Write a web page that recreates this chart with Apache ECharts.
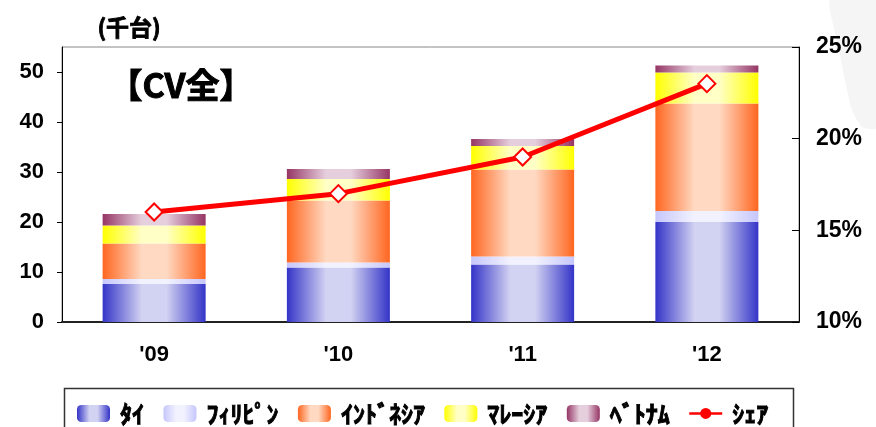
<!DOCTYPE html>
<html>
<head>
<meta charset="utf-8">
<script src="https://cdn.jsdelivr.net/npm/echarts@6/dist/echarts.min.js"></script>
<style>
  html, body { margin: 0; padding: 0; background: #ffffff; }
  #chart { width: 876px; height: 427px; }
</style>
</head>
<body>
<div id="chart"></div>
<script>
// Commercial vehicle sales by country (thousand units) and share (%)
const years = ["'09", "'10", "'11", "'12"];
const thai = [7.6, 10.9, 11.5, 20.0];
const philippines = [1.0, 1.0, 1.6, 2.2];
const indonesia = [7.1, 12.4, 17.4, 21.5];
const malaysia = [3.6, 4.3, 4.7, 6.2];
const vietnam = [2.3, 2.0, 1.4, 1.4];
const share = [16, 17, 19, 23];
const names = ['ﾀｲ', 'ﾌｨﾘﾋﾟﾝ', 'ｲﾝﾄﾞﾈｼｱ', 'ﾏﾚｰｼｱ', 'ﾍﾞﾄﾅﾑ', 'ｼｪｱ'];
const leftTicks = { min: 0, max: 55, interval: 10 };
const rightTicks = { min: 10, max: 25, interval: 5 };

const chart = echarts.init(document.getElementById('chart'), null, { renderer: 'canvas' });

// Horizontal "cylinder" shading: dark edges, light centre
function shade(edge, mid) {
  return new echarts.graphic.LinearGradient(0, 0, 1, 0, [
    { offset: 0, color: edge },
    { offset: 0.38, color: mid },
    { offset: 0.62, color: mid },
    { offset: 1, color: edge }
  ]);
}

const latin = 'Liberation Sans, Arial, sans-serif';
const cjk = 'Noto Sans CJK JP, sans-serif';

function barSeries(name, data, edge, mid) {
  return {
    name: name,
    type: 'bar',
    stack: 'cv',
    yAxisIndex: 0,
    barWidth: 103,
    data: data,
    itemStyle: { color: shade(edge, mid) },
    emphasis: { disabled: true }
  };
}

const option = {
  backgroundColor: '#ffffff',
  animation: false,
  grid: {
    left: 62, right: 77, top: 47, bottom: 105,
    show: true, borderColor: '#888888', borderWidth: 1, backgroundColor: 'transparent'
  },
  legend: {
    left: 77, top: 401,
    padding: 0,
    itemWidth: 33, itemHeight: 17, itemGap: 19,
    textStyle: {
      fontFamily: cjk, fontWeight: 'bold', fontSize: 24, color: '#000',
      textBorderColor: '#000', textBorderWidth: 0.9, padding: [0, 0, 0, 5]
    },
    data: [
      names[0], names[1], names[2], names[3], names[4],
      {
        name: names[5],
        icon: 'path://M0,4.6H36V7.4H0Z M24,6A6,6,0,1,1,12,6A6,6,0,1,1,24,6Z',
        itemStyle: { color: '#ff0000', borderWidth: 0 }
      }
    ]
  },
  xAxis: {
    type: 'category',
    data: years,
    axisLine: { show: true, lineStyle: { color: '#222', width: 2 } },
    axisTick: { show: false },
    axisLabel: { fontFamily: latin, fontWeight: 'bold', fontSize: 22, color: '#000', margin: 22 }
  },
  yAxis: [
    {
      type: 'value',
      min: leftTicks.min, max: leftTicks.max, interval: leftTicks.interval,
      axisLine: { show: true, lineStyle: { color: '#000', width: 1 } },
      axisTick: { show: true, inside: false, length: 5, lineStyle: { color: '#000' } },
      splitLine: { show: false },
      axisLabel: { fontFamily: latin, fontWeight: 'bold', fontSize: 22, color: '#000', margin: 18, showMaxLabel: false }
    },
    {
      type: 'value',
      position: 'right',
      min: rightTicks.min, max: rightTicks.max, interval: rightTicks.interval,
      axisLine: { show: true, lineStyle: { color: '#000', width: 1 } },
      axisTick: { show: true, inside: true, length: 7, lineStyle: { color: '#000' } },
      splitLine: { show: false },
      axisLabel: { fontFamily: latin, fontWeight: 'bold', fontSize: 23, color: '#000', margin: 17, formatter: '{value}%' }
    }
  ],
  series: [
    barSeries(names[0], thai, '#3434c8', '#d2d2f2'),
    barSeries(names[1], philippines, '#c6c6fc', '#f2f2ff'),
    barSeries(names[2], indonesia, '#ff6620', '#ffd9c2'),
    barSeries(names[3], malaysia, '#ffff00', '#ffffc6'),
    barSeries(names[4], vietnam, '#953565', '#e6cfdd'),
    {
      name: names[5],
      type: 'line',
      yAxisIndex: 1,
      data: share,
      z: 5,
      symbol: 'diamond',
      symbolSize: 17,
      lineStyle: { color: '#ff0000', width: 5 },
      itemStyle: { color: '#ffffff', borderColor: '#ff0000', borderWidth: 2 },
      emphasis: { disabled: true }
    }
  ],
  graphic: [
    {
      type: 'polygon', z: -10, silent: true,
      shape: {
        points: [[830, 0], [876, 0], [876, 128], [862, 127], [852, 110], [845, 80], [838, 45], [832, 20]],
        smooth: 0.2
      },
      style: { fill: '#f5f5f5' }
    },
    {
      type: 'text', left: 97, top: 15,
      style: {
        text: '(千台)', font: 'bold 23px "Noto Sans CJK JP", sans-serif', fill: '#000',
        stroke: '#000', lineWidth: 0.8
      }
    },
    {
      type: 'text', left: 108, top: 68,
      style: {
        text: '【CV全】', font: 'bold 34px "Noto Sans CJK JP", sans-serif', fill: '#000',
        stroke: '#000', lineWidth: 1
      }
    },
    {
      type: 'rect', silent: true,
      shape: { x: 64.5, y: 388.5, width: 729, height: 60 },
      style: { fill: 'none', stroke: '#333333', lineWidth: 1.5 }
    }
  ]
};

chart.setOption(option);
</script>
</body>
</html>
